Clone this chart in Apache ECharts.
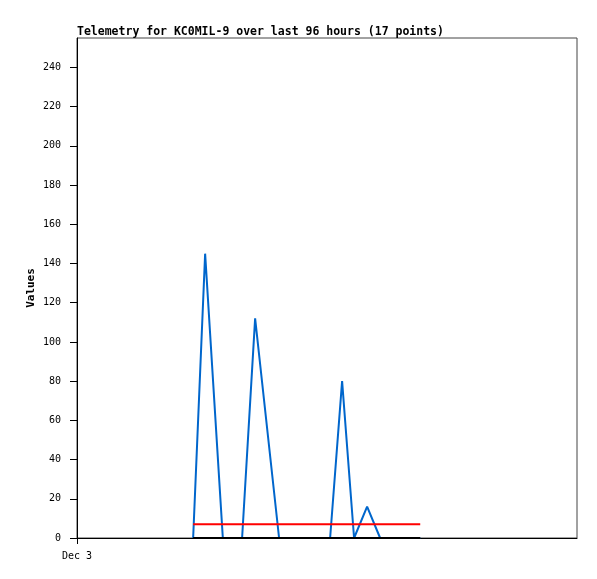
<!DOCTYPE html>
<html>
<head>
<meta charset="utf-8">
<script src="https://cdn.jsdelivr.net/npm/echarts@6/dist/echarts.min.js"></script>
<style>
  html, body { margin: 0; padding: 0; background: #fff; }
  #chart { width: 597px; height: 579px; }
</style>
</head>
<body>
<div id="chart"></div>
<script>
// hours since Dec 3 00:00 for each of the 17 points
var hours = [22.3, 24.6, 28.0, 29.8, 31.7, 34.2, 38.8, 42.0, 45.3, 48.6, 50.9, 53.2, 55.7, 58.2, 61.0, 63.5, 65.9];
var blueValues = [0, 145, 0, 0, 0, 112, 0, 0, 0, 0, 80, 0, 16, 0, 0, 0, 0];
var redValues = [7, 7, 7, 7, 7, 7, 7, 7, 7, 7, 7, 7, 7, 7, 7, 7, 7];
var blackValues = [0, 0, 0, 0, 0, 0, 0, 0, 0, 0, 0, 0, 0, 0, 0, 0, 0];
var xTickHours = [0];
var xTickLabels = ["Dec 3"];

var mono = "DejaVu Sans Mono";

function pairs(vals) {
  var out = [];
  for (var i = 0; i < hours.length; i++) {
    out.push([hours[i], vals[i]]);
  }
  return out;
}

var chart = echarts.init(document.getElementById("chart"));
chart.setOption({
  animation: false,
  title: {
    text: "Telemetry for KC0MIL-9 over last 96 hours (17 points)",
    left: 77,
    top: 26,
    padding: 0,
    textStyle: { fontFamily: mono, fontSize: 11.5, fontWeight: "bold", color: "#000" }
  },
  grid: {
    left: 77, right: 20, top: 38, bottom: 41,
    show: true, borderColor: "#444", borderWidth: 1, backgroundColor: "#fff"
  },
  xAxis: {
    type: "value",
    min: 0,
    max: 96,
    interval: 96,
    splitLine: { show: false },
    axisLine: { lineStyle: { color: "#000", width: 1 } },
    axisTick: { length: 6, customValues: xTickHours, lineStyle: { color: "#000" } },
    axisLabel: {
      customValues: xTickHours,
      margin: 13,
      fontFamily: mono, fontSize: 10, color: "#000",
      formatter: function (v) {
        var i = xTickHours.indexOf(v);
        return i >= 0 ? xTickLabels[i] : "";
      }
    }
  },
  yAxis: {
    type: "value",
    min: 0,
    max: 255,
    interval: 20,
    name: "Values",
    nameLocation: "middle",
    nameGap: 40,
    nameMoveOverlap: false,
    nameTextStyle: { fontFamily: mono, fontSize: 11, fontWeight: "bold", color: "#000" },
    splitLine: { show: false },
    axisLine: { show: true, lineStyle: { color: "#000", width: 1 } },
    axisTick: { show: true, length: 7, lineStyle: { color: "#000" } },
    axisLabel: {
      margin: 16,
      fontFamily: mono, fontSize: 10, color: "#000",
      showMaxLabel: false
    }
  },
  series: [
    {
      type: "line",
      data: pairs(blueValues),
      showSymbol: false,
      lineStyle: { color: "#0066cc", width: 2 }
    },
    {
      type: "line",
      data: pairs(redValues),
      showSymbol: false,
      lineStyle: { color: "#ff0000", width: 2 }
    },
    {
      type: "line",
      data: pairs(blackValues),
      showSymbol: false,
      lineStyle: { color: "#000", width: 2 }
    }
  ]
});
</script>
</body>
</html>
